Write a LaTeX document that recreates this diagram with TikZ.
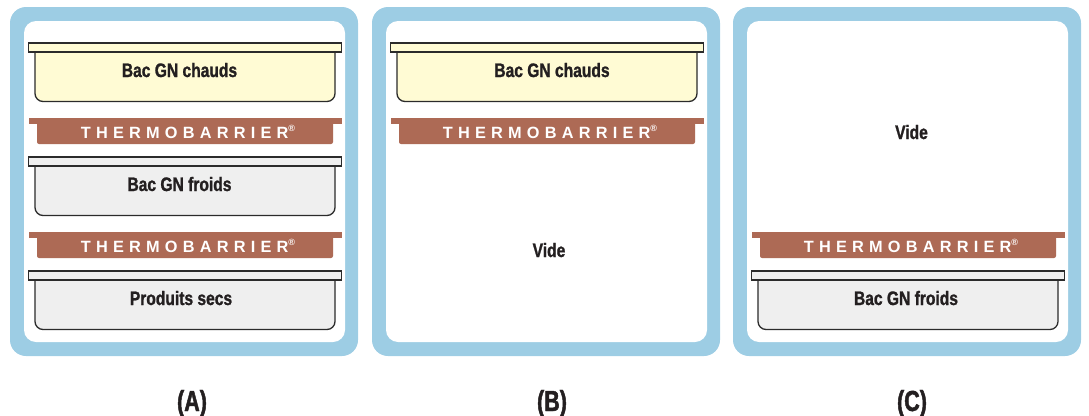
\documentclass[tikz,border=0pt]{standalone}
\usepackage{fontspec}
\setmainfont{Liberation Sans}
\newfontfamily\cond[FakeStretch=0.8, BoldFeatures={FakeBold=1.2}]{Liberation Sans}
\newfontfamily\condcap[FakeStretch=0.74, BoldFeatures={FakeBold=1.6}]{Liberation Sans}
\newfontfamily\tbfont[LetterSpace=32]{Liberation Sans}
\definecolor{frameblue}{HTML}{9DCDE4}
\definecolor{barred}{HTML}{AD6A55}
\definecolor{hot}{HTML}{FFFBD4}
\definecolor{cold}{HTML}{EFEFEF}
\definecolor{edge}{HTML}{2B2B2B}
\definecolor{ink}{HTML}{231F20}
\newcommand\gnpanel[1]{%
  \fill[frameblue, rounded corners=16pt] (#1+10,7) rectangle (#1+358,356);
  \fill[white, rounded corners=12pt] (#1+24,21) rectangle (#1+345,342);}
% #1 dx, #2 y, #3 colour, #4 text, #5 name, #6 text x
\newcommand\gntray[6]{%
  \filldraw[fill=#3, draw=edge, line width=1.3pt, rounded corners=8pt]
    (#1+35,#2+9) -- (#1+35,#2+58.5) -- (#1+335,#2+58.5) -- (#1+335,#2+9);
  \filldraw[fill=#3, draw=edge, line width=1.3pt]
    (#1+28.5,#2) rectangle (#1+341.5,#2+9);
  \node[lbl] (#5) at (#6,#2+34) {#4};}
\newcommand\thermo[3]{%
  \fill[barred] (#1+29,#2) rectangle (#1+342,#2+6);
  \fill[barred, rounded corners=2pt] (#1+37,#2) -- (#1+37,#2+26) -- (#1+333,#2+26) -- (#1+333,#2);
  \node[tbtext] (#3) at (#1+188,#2+20) {THERMOBARRIER\raisebox{0.42em}{\fontsize{9}{9}\selectfont ®}};}
\begin{document}
\begin{tikzpicture}[x=1pt,y=-1pt,
  lbl/.style={font=\cond\bfseries\fontsize{19.5}{20}\selectfont, text=ink, anchor=base, inner sep=0pt},
  tbtext/.style={font=\tbfont\bfseries\fontsize{16.3}{17}\selectfont, text=white, anchor=base, inner sep=0pt},
  caplbl/.style={font=\condcap\bfseries\fontsize{29}{30}\selectfont, text=ink, anchor=base, inner sep=0pt}]
\useasboundingbox (0,0) rectangle (1089,415);
% Panel A
\gnpanel{0}
\gntray{0}{43}{hot}{Bac GN chauds}{trayA1}{179.5}
\thermo{0}{118}{barA1}
\gntray{0}{157}{cold}{Bac GN froids}{trayA2}{179.5}
\thermo{0}{232}{barA2}
\gntray{0}{271}{cold}{Produits secs}{trayA3}{181}
% Panel B
\gnpanel{362}
\gntray{362}{43}{hot}{Bac GN chauds}{trayB1}{552}
\thermo{362}{118}{barB1}
\node[lbl] (videB) at (549,257) {Vide};
% Panel C
\gnpanel{723}
\node[lbl] (videC) at (911.5,139) {Vide};
\thermo{723}{232}{barC1}
\gntray{723}{271}{cold}{Bac GN froids}{trayC1}{906}
% captions
\node[caplbl] (capA) at (192,411) {(A)};
\node[caplbl] (capB) at (552,411) {(B)};
\node[caplbl] (capC) at (912,411) {(C)};
\end{tikzpicture}
\end{document}
